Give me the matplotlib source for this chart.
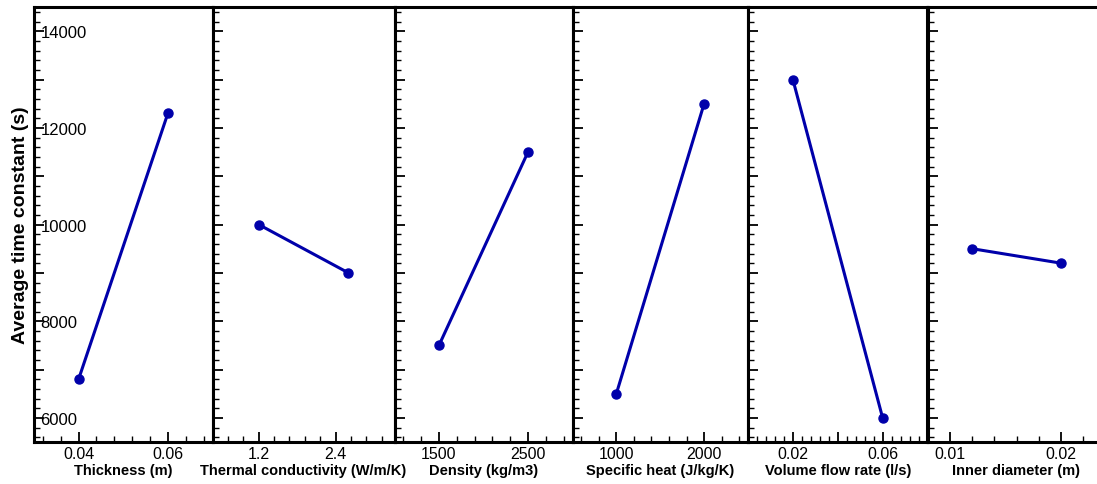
"""
Efeito médio de cada parâmetro sobre a constante de tempo
"""
import matplotlib
matplotlib.use("Agg")
import matplotlib.pyplot as plt
from matplotlib.ticker import MultipleLocator, FuncFormatter

plt.rcParams['font.family'] = ['Liberation Sans', 'DejaVu Sans']

# Dados (dois níveis por parâmetro)
param_labels = ['Thickness (m)', 'Thermal conductivity (W/m/K)', 'Density (kg/m3)',
                'Specific heat (J/kg/K)', 'Volume flow rate (l/s)', 'Inner diameter (m)']
thickness_x = [0.04, 0.06]
thickness_y = [6800, 12300]
conductivity_x = [1.2, 2.6]
conductivity_y = [10000, 9000]
density_x = [1500, 2500]
density_y = [7500, 11500]
spec_heat_x = [1000, 2000]
spec_heat_y = [6500, 12500]
flow_x = [0.02, 0.06]
flow_y = [13000, 6000]
diameter_x = [0.012, 0.02]
diameter_y = [9500, 9200]

# Eixos x de cada painel
x_limits = [(0.03, 0.07), (0.48, 3.32), (1000, 3000), (500, 2500), (0.0, 0.08), (0.008, 0.024)]
x_ticks = [[0.04, 0.06], [1.2, 2.4], [1500, 2500], [1000, 2000], [0.02, 0.04, 0.06], [0.01, 0.02]]
x_tick_labels = [['0.04', '0.06'], ['1.2', '2.4'], ['1500', '2500'], ['1000', '2000'],
                 ['0.02', '', '0.06'], ['0.01', '0.02']]
x_minor = [(0.004, 0), (0.24, 0), (200, 100), (200, 0), (0.004, 0), (0.002, 0)]

xs = [thickness_x, conductivity_x, density_x, spec_heat_x, flow_x, diameter_x]
ys = [thickness_y, conductivity_y, density_y, spec_heat_y, flow_y, diameter_y]

# posições dos painéis em pixels (a figura corta o último painel)
W, H = 1097, 485
edges = [34, 212.5, 394.5, 572.5, 748, 927.5, 1105.5]
bottom_px, top_px = 443, 8

fig = plt.figure(figsize=(W / 100, H / 100), dpi=100)
line_color = '#0000AA'

for i in range(6):
    left = edges[i] / W
    width = (edges[i + 1] - edges[i]) / W
    ax = fig.add_axes([left, (H - bottom_px) / H, width, (bottom_px - top_px) / H])
    ax.plot(xs[i], ys[i], color=line_color, lw=2.2, marker='o', ms=6.5)

    ax.set_xlim(*x_limits[i])
    ax.set_ylim(5500, 14500)
    ax.set_xticks(x_ticks[i], x_tick_labels[i])
    step, off = x_minor[i]
    ax.xaxis.set_minor_locator(MultipleLocator(step, offset=off))

    ax.yaxis.set_major_locator(MultipleLocator(1000))
    ax.yaxis.set_minor_locator(MultipleLocator(200))

    for s in ax.spines.values():
        s.set_linewidth(2.2)

    ax.tick_params(which='both', direction='in', top=False, right=False, width=1.3)
    ax.tick_params(which='major', length=7.5)
    ax.tick_params(which='minor', length=4.5, width=1.0)
    ax.tick_params(axis='x', labelsize=11.5, pad=3)
    ax.set_xlabel(param_labels[i], fontsize=10.5, fontweight='bold', labelpad=1)

    if i == 0:
        ax.yaxis.set_major_formatter(
            FuncFormatter(lambda v, p: f'{int(v)}' if int(v) % 2000 == 0 else ''))
        ax.tick_params(axis='y', labelsize=12, pad=-4.5)
        plt.setp(ax.get_yticklabels(), ha='left')
        ax.set_ylabel('Average time constant (s)', fontsize=14, fontweight='bold', labelpad=0.5)
    else:
        ax.tick_params(axis='y', labelleft=False)

fig.savefig('out.png', dpi=100)
